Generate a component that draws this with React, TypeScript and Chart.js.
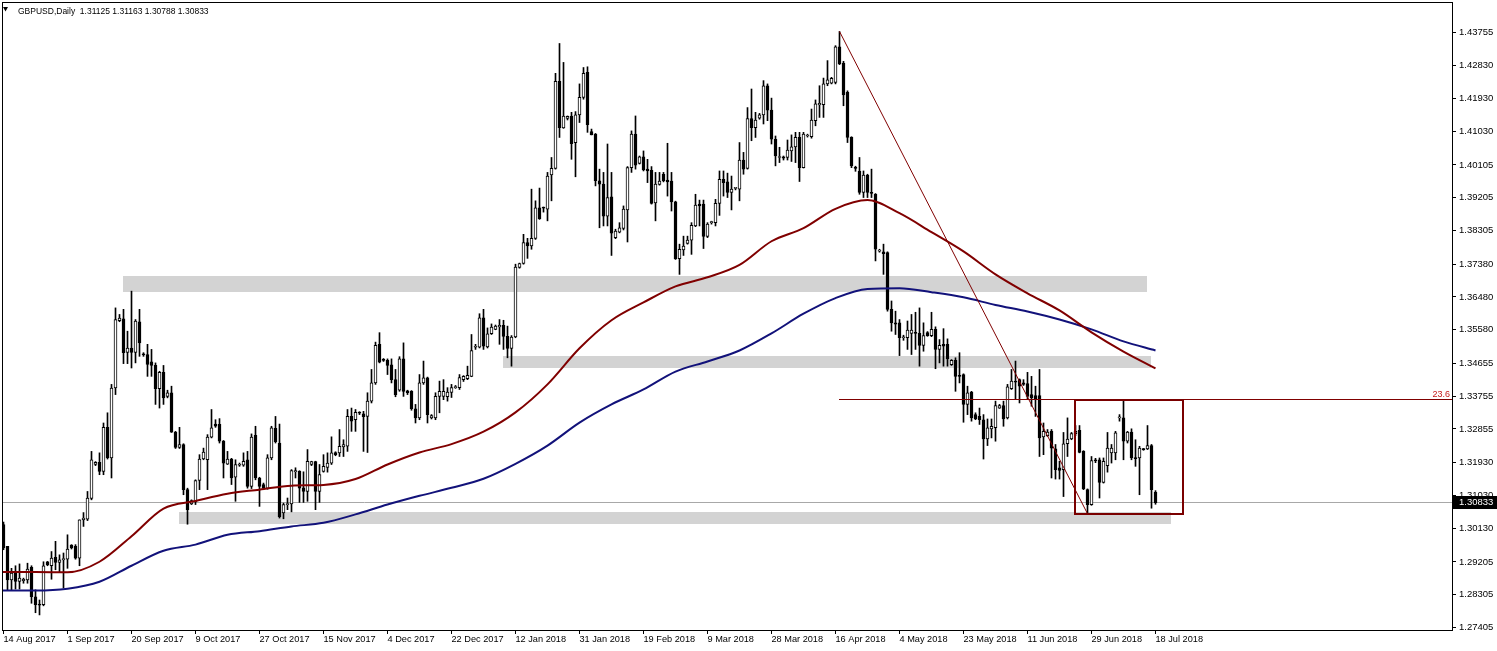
import React, { useEffect, useRef } from "react";
import { Chart, registerables } from "chart.js";

Chart.register(...registerables);

const symbolName = "GBPUSD";
const timeframeName = "Daily";

// Daily candles, bar 0 = 14 Aug 2017 ... bar 288 = 18 Jul 2018
const opens = [
  1.3023,1.2963,1.2871,1.2894,1.2867,1.2869,1.2871,1.2906,1.2825,1.2803,
  1.2803,1.2921,1.2910,1.2933,1.2919,1.2926,1.2928,1.2967,1.2963,1.2931,
  1.3036,1.3038,1.3095,1.3188,1.3194,1.3169,1.3290,1.3206,1.3398,1.3583,
  1.3588,1.3496,1.3508,1.3496,1.3580,1.3490,1.3490,1.3470,1.3460,1.3396,
  1.3441,1.3375,1.3385,1.3277,1.3235,1.3243,1.3119,1.3080,1.3085,1.3144,
  1.3203,1.3201,1.3263,1.3299,1.3298,1.3252,1.3189,1.3203,1.3153,1.3186,
  1.3186,1.3201,1.3128,1.3268,1.3151,1.3133,1.3122,1.3206,1.3287,1.3247,
  1.3055,1.3078,1.3080,1.3168,1.3169,1.3124,1.3114,1.3188,1.3196,1.3114,
  1.3169,1.3180,1.3192,1.3221,1.3220,1.3236,1.3238,1.3320,1.3311,1.3330,
  1.3327,1.3320,1.3362,1.3412,1.3518,1.3476,1.3474,1.3462,1.3421,1.3392,
  1.3478,1.3390,1.3389,1.3341,1.3316,1.3412,1.3426,1.3316,1.3316,1.3375,
  1.3375,1.3374,1.3386,1.3399,1.3399,1.3421,1.3424,1.3430,1.3510,1.3510,
  1.3591,1.3511,1.3547,1.3559,1.3566,1.3570,1.3540,1.3507,1.3538,1.3729,
  1.3740,1.3797,1.3788,1.3809,1.3893,1.3893,1.3889,1.3983,1.4001,1.4240,
  1.4112,1.4138,1.4145,1.4072,1.4148,1.4196,1.4265,1.4102,1.4095,1.3967,
  1.3958,1.3870,1.3923,1.3811,1.3826,1.3836,1.3887,1.4003,1.4095,1.4015,
  1.4033,1.3999,1.3996,1.3906,1.3957,1.3985,1.3969,1.3966,1.3909,1.3753,
  1.3777,1.3795,1.3804,1.3843,1.3903,1.3903,1.3814,1.3852,1.3852,1.3905,
  1.3971,1.3964,1.3935,1.3946,1.3944,1.4024,1.4001,1.4138,1.4113,1.4139,
  1.4148,1.4228,1.4161,1.4081,1.4031,1.4033,1.4031,1.4049,1.4060,1.4086,
  1.4003,1.4090,1.4088,1.4132,1.4175,1.4176,1.4233,1.4235,1.4237,1.4335,
  1.4290,1.4210,1.4086,1.4003,1.3994,1.3935,1.3983,1.3935,1.3930,1.3774,
  1.3772,1.3770,1.3614,1.3577,1.3577,1.3536,1.3536,1.3548,1.3550,1.3548,
  1.3515,1.3550,1.3542,1.3559,1.3504,1.3518,1.3518,1.3462,1.3474,1.3432,
  1.3435,1.3353,1.3387,1.3325,1.3320,1.3311,1.3258,1.3286,1.3289,1.3343,
  1.3350,1.3316,1.3396,1.3417,1.3421,1.3412,1.3410,1.3380,1.3377,1.3377,
  1.3264,1.3267,1.3279,1.3231,1.3179,1.3174,1.3245,1.3258,1.3273,1.3282,
  1.3224,1.3119,1.3078,1.3199,1.3201,1.3139,1.3185,1.3220,1.3220,1.3316,
  1.3316,1.3252,1.3277,1.3206,1.3206,1.3231,1.3231,1.3240,1.31125,
];

const highs = [
  1.3030,1.2963,1.2903,1.2910,1.2915,1.2876,1.2917,1.2910,1.2844,1.2816,
  1.2921,1.2922,1.2949,1.2977,1.2940,1.2945,1.2995,1.2968,1.2968,1.3036,
  1.3056,1.3114,1.3224,1.3196,1.3220,1.3302,1.3330,1.3408,1.3618,1.3600,
  1.3614,1.3554,1.3664,1.3586,1.3614,1.3495,1.3518,1.3504,1.3467,1.3444,
  1.3460,1.3392,1.3403,1.3279,1.3290,1.3245,1.3123,1.3091,1.3146,1.3215,
  1.3233,1.3270,1.3339,1.3311,1.3314,1.3254,1.3224,1.3205,1.3201,1.3192,
  1.3220,1.3224,1.3272,1.3293,1.3153,1.3137,1.3215,1.3293,1.3320,1.3299,
  1.3082,1.3096,1.3174,1.3179,1.3171,1.3168,1.3229,1.3197,1.3197,1.3188,
  1.3215,1.3220,1.3264,1.3223,1.3284,1.3256,1.3339,1.3343,1.3339,1.3333,
  1.3334,1.3385,1.3449,1.3524,1.3550,1.3479,1.3478,1.3478,1.3449,1.3484,
  1.3522,1.3392,1.3391,1.3353,1.3435,1.3472,1.3428,1.3325,1.3385,1.3417,
  1.3421,1.3399,1.3408,1.3405,1.3435,1.3432,1.3458,1.3545,1.3518,1.3602,
  1.3614,1.3563,1.3574,1.3571,1.3586,1.3584,1.3568,1.3542,1.3738,1.3741,
  1.3820,1.3809,1.3944,1.3912,1.3947,1.3895,1.3990,1.4031,1.4262,1.4344,
  1.4292,1.4145,1.4155,1.4157,1.4233,1.4278,1.4280,1.4109,1.4097,1.3999,
  1.3990,1.4068,1.3990,1.3834,1.3852,1.3898,1.4006,1.4104,1.4145,1.4035,
  1.4049,1.4026,1.4006,1.3990,1.3990,1.3990,1.4070,1.3990,1.3911,1.3793,
  1.3815,1.3815,1.3852,1.3930,1.3914,1.3914,1.3852,1.3856,1.3916,1.3994,
  1.3994,1.3988,1.3980,1.3949,1.4072,1.4045,1.4168,1.4219,1.4155,1.4152,
  1.4242,1.4233,1.4194,1.4090,1.4059,1.4035,1.4079,1.4093,1.4100,1.4100,
  1.4100,1.4095,1.4164,1.4189,1.4228,1.4249,1.4297,1.4251,1.4338,1.4377,
  1.4295,1.4214,1.4088,1.4007,1.4031,1.3994,1.3985,1.3999,1.3932,1.3779,
  1.3793,1.3772,1.3637,1.3609,1.3586,1.3543,1.3582,1.3600,1.3606,1.3618,
  1.3577,1.3553,1.3606,1.3566,1.3531,1.3561,1.3533,1.3476,1.3481,1.3495,
  1.3437,1.3403,1.3389,1.3330,1.3343,1.3325,1.3313,1.3313,1.3362,1.3353,
  1.3362,1.3408,1.3449,1.3472,1.3423,1.3421,1.3441,1.3430,1.3403,1.3449,
  1.3302,1.3284,1.3284,1.3243,1.3197,1.3276,1.3316,1.3276,1.3295,1.3295,
  1.3226,1.3121,1.3210,1.3205,1.3206,1.3206,1.3276,1.3243,1.3279,1.3325,
  1.3362,1.3279,1.3286,1.3256,1.3238,1.3232,1.3295,1.3243,1.31163,
];

const lows = [
  1.2954,1.2844,1.2844,1.2846,1.2846,1.2862,1.2862,1.2807,1.2781,1.2775,
  1.2800,1.2910,1.2873,1.2899,1.2891,1.2849,1.2903,1.2956,1.2928,1.2910,
  1.3018,1.3034,1.3091,1.3185,1.3160,1.3160,1.3203,1.3151,1.3380,1.3580,
  1.3465,1.3465,1.3453,1.3467,1.3485,1.3485,1.3430,1.3430,1.3353,1.3343,
  1.3353,1.3371,1.3276,1.3232,1.3232,1.3105,1.3024,1.3078,1.3078,1.3119,
  1.3201,1.3119,1.3261,1.3290,1.3247,1.3151,1.3188,1.3133,1.3087,1.3183,
  1.3183,1.3123,1.3122,1.3146,1.3073,1.3122,1.3120,1.3201,1.3247,1.3041,
  1.3039,1.3064,1.3058,1.3151,1.3084,1.3084,1.3087,1.3185,1.3064,1.3084,
  1.3167,1.3167,1.3188,1.3212,1.3210,1.3210,1.3224,1.3279,1.3279,1.3325,
  1.3224,1.3221,1.3357,1.3408,1.3467,1.3471,1.3435,1.3412,1.3374,1.3389,
  1.3375,1.3380,1.3337,1.3302,1.3311,1.3408,1.3302,1.3313,1.3311,1.3330,
  1.3366,1.3362,1.3372,1.3397,1.3394,1.3416,1.3421,1.3429,1.3504,1.3508,
  1.3504,1.3508,1.3545,1.3558,1.3518,1.3504,1.3481,1.3458,1.3536,1.3727,
  1.3738,1.3754,1.3779,1.3806,1.3861,1.3881,1.3857,1.3912,1.3999,1.4086,
  1.4111,1.4134,1.4026,1.3978,1.4127,1.4191,1.4100,1.4093,1.3953,1.3838,
  1.3843,1.3843,1.3762,1.3808,1.3824,1.3832,1.3799,1.3990,1.3999,1.4013,
  1.3994,1.3962,1.3903,1.3857,1.3955,1.3964,1.3925,1.3884,1.3751,1.3710,
  1.3762,1.3793,1.3765,1.3841,1.3843,1.3781,1.3811,1.3848,1.3843,1.3872,
  1.3925,1.3921,1.3887,1.3942,1.3912,1.3985,1.3999,1.4077,1.4086,1.4136,
  1.4123,1.4132,1.4068,1.4008,1.4017,1.4024,1.4024,1.4020,1.4017,1.3965,
  1.4002,1.4087,1.4084,1.4118,1.4141,1.4141,1.4228,1.4233,1.4233,1.4286,
  1.4173,1.4072,1.4003,1.3993,1.3930,1.3921,1.3921,1.3921,1.3747,1.3771,
  1.3710,1.3609,1.3554,1.3545,1.3487,1.3529,1.3504,1.3490,1.3504,1.3458,
  1.3499,1.3540,1.3539,1.3451,1.3467,1.3458,1.3458,1.3460,1.3389,1.3412,
  1.3304,1.3325,1.3307,1.3311,1.3298,1.3203,1.3240,1.3261,1.3252,1.3342,
  1.3293,1.3313,1.3394,1.3366,1.3357,1.3405,1.3366,1.3348,1.3320,1.3210,
  1.3215,1.3265,1.3151,1.3148,1.3148,1.3100,1.3210,1.3256,1.3267,1.3220,
  1.3119,1.3053,1.3076,1.3193,1.3096,1.3137,1.3167,1.3192,1.3201,1.3307,
  1.3201,1.3247,1.3201,1.3183,1.3105,1.3227,1.3229,1.3068,1.30788,
];

const closes = [
  1.2959,1.2871,1.2890,1.2867,1.2876,1.2873,1.2901,1.2825,1.2803,1.2802,
  1.2910,1.2912,1.2931,1.2919,1.2926,1.2930,1.2956,1.2959,1.2931,1.3036,
  1.3041,1.3096,1.3201,1.3194,1.3169,1.3290,1.3206,1.3398,1.3586,1.3590,
  1.3495,1.3508,1.3496,1.3582,1.3522,1.3489,1.3463,1.3460,1.3396,1.3441,
  1.3371,1.3385,1.3277,1.3235,1.3243,1.3119,1.3064,1.3089,1.3144,1.3203,
  1.3222,1.3263,1.3289,1.3293,1.3252,1.3192,1.3203,1.3151,1.3188,1.3186,
  1.3197,1.3128,1.3263,1.3151,1.3128,1.3123,1.3206,1.3289,1.3251,1.3045,
  1.3078,1.3079,1.3171,1.3171,1.3123,1.3114,1.3197,1.3196,1.3114,1.3160,
  1.3183,1.3192,1.3220,1.3215,1.3238,1.3243,1.3320,1.3307,1.3331,1.3329,
  1.3319,1.3362,1.3412,1.3515,1.3469,1.3474,1.3460,1.3421,1.3380,1.3478,
  1.3389,1.3385,1.3341,1.3316,1.3412,1.3426,1.3325,1.3322,1.3375,1.3389,
  1.3389,1.3387,1.3399,1.3402,1.3427,1.3430,1.3433,1.3501,1.3511,1.3591,
  1.3513,1.3547,1.3565,1.3568,1.3570,1.3540,1.3507,1.3538,1.3730,1.3740,
  1.3797,1.3788,1.3809,1.3893,1.3863,1.3892,1.3980,1.4001,1.4240,1.4113,
  1.4145,1.4144,1.4069,1.4148,1.4196,1.4262,1.4121,1.4093,1.3967,1.3958,
  1.3870,1.3921,1.3823,1.3829,1.3838,1.3889,1.4003,1.4095,1.4010,1.4033,
  1.3997,1.3994,1.3905,1.3958,1.3966,1.3967,1.3964,1.3909,1.3753,1.3779,
  1.3788,1.3804,1.3845,1.3900,1.3898,1.3814,1.3848,1.3853,1.3905,1.3971,
  1.3962,1.3935,1.3944,1.3946,1.4024,1.3999,1.4138,1.4113,1.4134,1.4148,
  1.4228,1.4161,1.4081,1.4035,1.4031,1.4029,1.4051,1.4060,1.4086,1.4003,
  1.4095,1.4091,1.4134,1.4178,1.4180,1.4233,1.4244,1.4248,1.4335,1.4288,
  1.4203,1.4086,1.4008,1.4001,1.3935,1.3983,1.3935,1.3932,1.3779,1.3774,
  1.3767,1.3614,1.3577,1.3573,1.3536,1.3537,1.3557,1.3557,1.3548,1.3515,
  1.3542,1.3542,1.3559,1.3504,1.3515,1.3513,1.3478,1.3474,1.3430,1.3430,
  1.3353,1.3385,1.3316,1.3313,1.3311,1.3258,1.3289,1.3293,1.3350,1.3350,
  1.3313,1.3401,1.3417,1.3414,1.3403,1.3408,1.3375,1.3371,1.3366,1.3261,
  1.3279,1.3277,1.3233,1.3174,1.3172,1.3245,1.3258,1.3273,1.3279,1.3221,
  1.3121,1.3078,1.3199,1.3198,1.3139,1.3197,1.3233,1.3233,1.3275,1.3316,
  1.3252,1.3277,1.3206,1.3204,1.3233,1.3229,1.3240,1.3119,1.30833,
];

// Time axis labels (bar index -> label)
const dateTickIndex = [0, 16, 32, 48, 64, 80, 96, 112, 128, 144, 160, 176, 192, 208, 224, 240, 256, 272, 288];
const dateTickLabels = [
  "14 Aug 2017", "1 Sep 2017", "20 Sep 2017", "9 Oct 2017", "27 Oct 2017", "15 Nov 2017",
  "4 Dec 2017", "22 Dec 2017", "12 Jan 2018", "31 Jan 2018", "19 Feb 2018", "9 Mar 2018",
  "28 Mar 2018", "16 Apr 2018", "4 May 2018", "23 May 2018", "11 Jun 2018", "29 Jun 2018", "18 Jul 2018",
];

// Price axis labels
const priceTicks = [
  1.43755, 1.4283, 1.4193, 1.4103, 1.40105, 1.39205, 1.38305, 1.3738, 1.3648, 1.3558,
  1.34655, 1.33755, 1.32855, 1.3193, 1.3103, 1.3013, 1.29205, 1.28305, 1.27405,
];

// Moving averages, read every 8 bars
const maIndex = [-1, 0, 8, 16, 24, 32, 40, 48, 56, 64, 72, 80, 88, 96, 104, 112, 120, 128, 136,
  144, 152, 160, 168, 176, 184, 192, 200, 208, 216, 224, 232, 240, 248, 256, 264, 272, 280, 288];
const maMaroon = [1.2893, 1.2893, 1.2893, 1.2892, 1.2921, 1.2991, 1.3067, 1.3088, 1.3108, 1.3119,
  1.3130, 1.3132, 1.3148, 1.3188, 1.3221, 1.3244, 1.3278, 1.3331, 1.3408, 1.3507, 1.3584, 1.3633,
  1.3677, 1.3702, 1.3736, 1.3801, 1.3837, 1.3890, 1.3914, 1.3878, 1.3826, 1.3773, 1.3710, 1.3658,
  1.3611, 1.3551, 1.3498, 1.3452];
const maNavy = [1.2842, 1.2842, 1.2842, 1.2847, 1.2866, 1.2910, 1.2951, 1.2968, 1.2995, 1.3005,
  1.3018, 1.3028, 1.3051, 1.3078, 1.3102, 1.3124, 1.3149, 1.3190, 1.3240, 1.3303, 1.3353, 1.3394,
  1.3443, 1.3471, 1.3501, 1.3548, 1.3602, 1.3645, 1.3670, 1.3672, 1.3661, 1.3647, 1.3626, 1.3608,
  1.3586, 1.3559, 1.3526, 1.3501];

// Support / resistance zones
const zoneFrom = [30, 125, 44];
const zoneTo = [286, 287, 292];
const zoneTop = [1.37063, 1.34846, 1.30571];
const zoneBottom = [1.36623, 1.34527, 1.30249];

// Trend line and fibonacci
const swingHighIndex = 209;
const swingHighPrice = 1.4377;
const swingLowIndex = 271;
const swingLowPrice = 1.3053;
const fibRatio = 0.236;
const fibText = "23.6";

// Marked box
const boxFromIndex = 268;
const boxToIndex = 295;
const boxTopPrice = 1.3366;
const boxBottomPrice = 1.3053;

const FONT = '"Liberation Sans", Arial, sans-serif';

const overlayPlugin = {
  id: "mt4Overlay",
  beforeDatasetsDraw(chart: any) {
    const { ctx, chartArea: a, scales } = chart;
    const x = scales.x, y = scales.y;
    ctx.save();
    ctx.beginPath();
    ctx.rect(a.left, a.top, a.right - a.left, a.bottom - a.top);
    ctx.clip();
    ctx.fillStyle = "#d3d3d3";
    for (let k = 0; k < zoneFrom.length; k++) {
      const x0 = Math.floor(x.getPixelForValue(zoneFrom[k]));
      const x1 = Math.floor(x.getPixelForValue(zoneTo[k]));
      const y0 = Math.round(y.getPixelForValue(zoneTop[k]));
      const y1 = Math.round(y.getPixelForValue(zoneBottom[k]));
      ctx.fillRect(x0, y0, x1 - x0, y1 - y0);
    }
    const by = Math.floor(y.getPixelForValue(closes[closes.length - 1])) + 0.5;
    ctx.strokeStyle = "#a8a8a8";
    ctx.lineWidth = 1;
    ctx.beginPath();
    ctx.moveTo(a.left, by);
    ctx.lineTo(a.right, by);
    ctx.stroke();
    ctx.restore();
  },
  afterDatasetsDraw(chart: any) {
    const { ctx, chartArea: a, scales } = chart;
    const x = scales.x, y = scales.y;
    ctx.save();
    ctx.beginPath();
    ctx.rect(a.left, a.top, a.right - a.left, a.bottom - a.top);
    ctx.clip();
    // trend line
    ctx.strokeStyle = "#800000";
    ctx.lineWidth = 1;
    ctx.beginPath();
    ctx.moveTo(x.getPixelForValue(swingHighIndex), y.getPixelForValue(swingHighPrice));
    ctx.lineTo(x.getPixelForValue(swingLowIndex), y.getPixelForValue(swingLowPrice));
    ctx.stroke();
    // fibonacci level
    const fibPrice = swingLowPrice + fibRatio * (swingHighPrice - swingLowPrice);
    const fy = Math.floor(y.getPixelForValue(fibPrice)) + 0.5;
    ctx.beginPath();
    ctx.moveTo(Math.floor(x.getPixelForValue(swingHighIndex)), fy);
    ctx.lineTo(a.right, fy);
    ctx.stroke();
    ctx.fillStyle = "#c41a1a";
    ctx.font = "9px " + FONT;
    ctx.textAlign = "right";
    ctx.textBaseline = "alphabetic";
    ctx.fillText(fibText, a.right - 2, fy - 2.5);
    // box
    ctx.strokeStyle = "#7a0000";
    ctx.lineWidth = 2;
    const bx0 = Math.floor(x.getPixelForValue(boxFromIndex));
    const bx1 = Math.floor(x.getPixelForValue(boxToIndex));
    const by0 = Math.round(y.getPixelForValue(boxTopPrice));
    const by1 = Math.round(y.getPixelForValue(boxBottomPrice));
    ctx.strokeRect(bx0, by0, bx1 - bx0, by1 - by0);
    ctx.restore();
  },
  afterDraw(chart: any) {
    const { ctx, chartArea: a, scales } = chart;
    const y = scales.y;
    ctx.save();
    // frame
    ctx.strokeStyle = "#000";
    ctx.lineWidth = 1;
    ctx.strokeRect(a.left + 0.5, a.top + 0.5, a.right - a.left, a.bottom - a.top);
    // title
    ctx.fillStyle = "#000";
    ctx.beginPath();
    ctx.moveTo(3, 7);
    ctx.lineTo(8, 7);
    ctx.lineTo(5.5, 11.5);
    ctx.closePath();
    ctx.fill();
    const last = closes.length - 1;
    const title = symbolName + "," + timeframeName + "  " +
      [opens[last], highs[last], lows[last], closes[last]].map((v) => v.toFixed(5)).join(" ");
    ctx.font = "8.5px " + FONT;
    ctx.textAlign = "left";
    ctx.textBaseline = "alphabetic";
    ctx.fillText(title, 18, 13.5);
    // current price box
    const py = Math.floor(y.getPixelForValue(closes[last]));
    ctx.fillStyle = "#000";
    ctx.fillRect(a.right + 1, py - 6, chart.width - a.right - 1, 13);
    ctx.fillStyle = "#fff";
    ctx.font = "9.5px " + FONT;
    ctx.textBaseline = "middle";
    ctx.fillText(closes[last].toFixed(5), a.right + 7, py + 0.5);
    ctx.restore();
  },
};

export default function App() {
  const canvasRef = useRef<HTMLCanvasElement | null>(null);

  useEffect(() => {
    const canvas = canvasRef.current;
    if (!canvas) return;
    const bodyData = opens.map((o, i) => ({ x: i, y: [o, closes[i]] }));
    const wickData = lows.map((l, i) => ({ x: i, y: [l, highs[i]] }));
    const tickFont = { family: FONT, size: 9.2 };
    const chart = new Chart(canvas, {
      type: "bar",
      data: {
        datasets: [
          {
            type: "line",
            label: "MA maroon",
            data: maIndex.map((v, k) => ({ x: v, y: maMaroon[k] })),
            borderColor: "#800000",
            borderWidth: 2,
            pointRadius: 0,
            cubicInterpolationMode: "monotone",
            clip: 0,
            order: 0,
          } as any,
          {
            type: "line",
            label: "MA navy",
            data: maIndex.map((v, k) => ({ x: v, y: maNavy[k] })),
            borderColor: "#12127a",
            borderWidth: 2,
            pointRadius: 0,
            cubicInterpolationMode: "monotone",
            clip: 0,
            order: 0,
          } as any,
          {
            type: "bar",
            label: "body",
            data: bodyData,
            backgroundColor: (c: any) =>
              closes[c.dataIndex] >= opens[c.dataIndex] ? "#ffffff" : "#000000",
            borderColor: "#000000",
            borderWidth: 1,
            borderSkipped: false,
            barThickness: 3,
            grouped: false,
            minBarLength: 1,
            clip: 0,
            order: 1,
          } as any,
          {
            type: "bar",
            label: "wick",
            data: wickData,
            backgroundColor: "#000000",
            borderWidth: 0,
            barThickness: 1,
            grouped: false,
            clip: 0,
            order: 2,
          } as any,
        ],
      },
      options: {
        responsive: false,
        maintainAspectRatio: false,
        animation: false,
        devicePixelRatio: 1,
        events: [],
        layout: { padding: { left: 2, top: 2, right: 0, bottom: 0 } },
        plugins: {
          legend: { display: false },
          tooltip: { enabled: false },
          title: { display: false },
        },
        scales: {
          x: {
            type: "linear",
            min: -0.375,
            max: 362.125,
            offset: false,
            bounds: "data",
            grid: {
              display: true,
              offset: false,
              drawOnChartArea: false,
              drawTicks: true,
              tickLength: 4,
              color: "#000",
              lineWidth: 1,
            },
            border: { display: false },
            afterBuildTicks: (s: any) => {
              s.ticks = dateTickIndex.map((v) => ({ value: v }));
            },
            afterFit: (s: any) => {
              s.height = 21;
              s.paddingLeft = 0;
              s.paddingRight = 0;
            },
            ticks: {
              autoSkip: false,
              maxRotation: 0,
              minRotation: 0,
              align: "start",
              padding: 0,
              color: "#000",
              font: tickFont,
              callback: (v: any) => {
                const k = dateTickIndex.indexOf(Number(v));
                return k >= 0 ? dateTickLabels[k] : "";
              },
            },
          },
          y: {
            type: "linear",
            position: "right",
            min: 1.27336,
            max: 1.44579,
            bounds: "data",
            grid: {
              display: true,
              drawOnChartArea: false,
              drawTicks: true,
              tickLength: 4,
              color: "#000",
              lineWidth: 1,
            },
            border: { display: false },
            afterBuildTicks: (s: any) => {
              s.ticks = priceTicks.map((v) => ({ value: v }));
            },
            afterFit: (s: any) => {
              s.width = 45;
              s.paddingTop = 0;
              s.paddingBottom = 0;
            },
            ticks: {
              padding: 3,
              color: "#000",
              font: { family: FONT, size: 9.5 },
              callback: (v: any) => Number(v).toFixed(5),
            },
          },
        },
      } as any,
      plugins: [overlayPlugin],
    });
    return () => chart.destroy();
  }, []);

  return (
    <div style={{ position: "absolute", left: 0, top: 0, width: 1497, height: 651, background: "#fff" }}>
      <canvas ref={canvasRef} width={1497} height={651} style={{ display: "block" }} />
    </div>
  );
}
